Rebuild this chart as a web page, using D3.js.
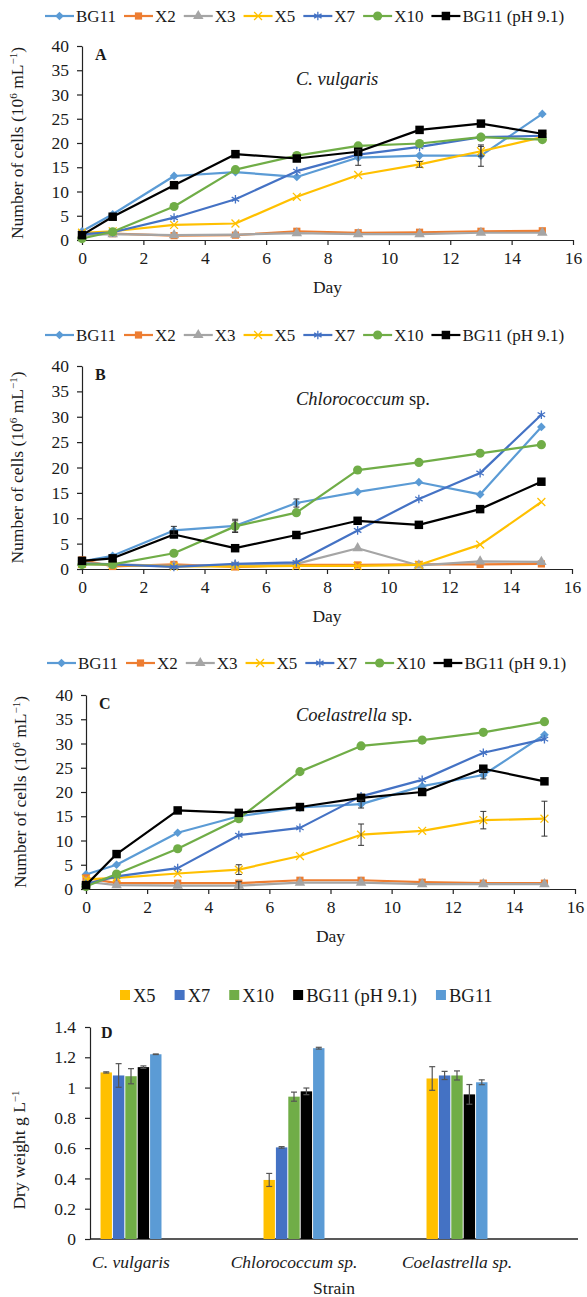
<!DOCTYPE html>
<html>
<head>
<meta charset="utf-8">
<script src="https://cdn.jsdelivr.net/npm/d3@7"></script>
<style>
  body { margin: 0; background: #fff; }
  svg { display: block; }
  text { font-family: "Liberation Serif", "Times New Roman", serif; fill: #1a1a1a; }
</style>
</head>
<body>
<svg id="chart" width="587" height="1297"></svg>
<script>
// ---- data ----
const days = [0, 1, 3, 5, 7, 9, 11, 13, 15];
const lineSeries = ["BG11", "X2", "X3", "X5", "X7", "X10", "BG11 (pH 9.1)"];
const lineColors = ["#5B9BD5", "#ED7D31", "#A5A5A5", "#FFC000", "#4472C4", "#70AD47", "#000000"];

// rows follow lineSeries, columns follow days (10^6 cells per mL)
const vulgarisCells = [
  [1.8, 5.3, 13.2, 14.0, 13.0, 17.0, 17.4, 17.4, 26.0],
  [1.2, 1.3, 0.9, 1.0, 1.8, 1.5, 1.6, 1.8, 1.9],
  [1.0, 1.2, 1.0, 1.1, 1.4, 1.2, 1.2, 1.5, 1.5],
  [1.5, 1.8, 3.1, 3.4, 8.9, 13.4, 15.6, 18.3, 21.2],
  [1.2, 1.6, 4.6, 8.4, 14.2, 17.6, 19.2, 21.2, 21.5],
  [0.3, 1.7, 6.9, 14.5, 17.4, 19.4, 19.9, 21.2, 20.7],
  [1.0, 4.8, 11.3, 17.7, 16.8, 18.2, 22.7, 24.0, 21.9]
];
// [series, day index, sd]
const vulgarisErr = [[0, 7, 2.2], [0, 5, 1.6], [3, 6, 0.6], [3, 7, 1.0]];

const chlorococcumCells = [
  [1.5, 2.6, 7.6, 8.5, 13.0, 15.2, 17.1, 14.7, 28.0],
  [1.8, 0.5, 0.9, 0.4, 0.8, 0.8, 0.9, 0.9, 1.0],
  [1.2, 0.9, 0.6, 0.7, 1.0, 4.1, 0.7, 1.5, 1.4],
  [1.0, 0.8, 0.5, 0.5, 0.6, 0.6, 0.8, 4.8, 13.2],
  [1.0, 0.9, 0.4, 1.0, 1.3, 7.6, 13.8, 18.9, 30.4],
  [0.9, 0.9, 3.1, 8.4, 11.1, 19.5, 21.0, 22.8, 24.5],
  [1.6, 2.1, 6.8, 4.1, 6.7, 9.5, 8.7, 11.8, 17.2]
];
const chlorococcumErr = [[0, 2, 0.8], [0, 3, 1.3], [5, 3, 1.1], [0, 4, 0.8]];

const coelastrellaCells = [
  [3.0, 5.0, 11.6, 15.0, 16.8, 17.5, 21.2, 23.5, 31.8],
  [2.3, 1.2, 1.2, 1.2, 1.8, 1.8, 1.4, 1.2, 1.2],
  [1.5, 0.8, 0.7, 0.7, 1.3, 1.3, 1.0, 1.0, 1.0],
  [2.0, 2.3, 3.2, 4.0, 6.8, 11.2, 12.0, 14.2, 14.5],
  [1.0, 2.6, 4.3, 11.1, 12.6, 19.1, 22.5, 28.1, 30.9],
  [0.5, 3.1, 8.3, 14.5, 24.2, 29.5, 30.7, 32.3, 34.5],
  [0.8, 7.2, 16.2, 15.7, 16.9, 18.8, 20.0, 24.8, 22.2]
];
const coelastrellaErr = [[3, 3, 1.0], [3, 5, 2.2], [3, 7, 1.8], [3, 8, 3.6], [0, 5, 0.8], [0, 7, 0.8], [2, 3, 0.8]];

const strains = ["C. vulgaris", "Chlorococcum sp.", "Coelastrella sp."];
const barSeries = ["X5", "X7", "X10", "BG11 (pH 9.1)", "BG11"];
const barColors = ["#FFC000", "#4472C4", "#70AD47", "#000000", "#5B9BD5"];
// rows follow strains, columns follow barSeries (g per L)
const dryWeight = [
  [1.10, 1.08, 1.075, 1.135, 1.22],
  [0.39, 0.605, 0.94, 0.975, 1.26],
  [1.06, 1.08, 1.08, 0.955, 1.035]
];
const dryWeightErr = [
  [0.004, 0.078, 0.05, 0.008, 0.002],
  [0.043, 0.005, 0.03, 0.022, 0.006],
  [0.078, 0.027, 0.03, 0.065, 0.016]
];

// ---- drawing ----
const svg = d3.select("#chart");
const FS = 17.5;

// diamond is drawn as a square turned 45 degrees
const symbolFor = [d3.symbolSquare, d3.symbolSquare, d3.symbolTriangle, d3.symbolX, d3.symbolAsterisk, d3.symbolCircle, d3.symbolSquare];
const symbolSize = [38, 52, 48, 42, 52, 66, 72];
const strokeSymbol = i => i === 3 || i === 4;

function drawMarker(g, i, x, y) {
  const p = g.append("path")
    .attr("transform", `translate(${x},${y})` + (i === 0 ? " rotate(45)" : ""))
    .attr("d", d3.symbol(symbolFor[i], symbolSize[i])());
  if (strokeSymbol(i)) p.attr("fill", "none").attr("stroke", lineColors[i]).attr("stroke-width", 1.3);
  else p.attr("fill", lineColors[i]);
}

function lineLegend(x0, y) {
  const g = svg.append("g");
  let x = x0;
  lineSeries.forEach((name, i) => {
    g.append("line").attr("x1", x).attr("x2", x + 29).attr("y1", y).attr("y2", y)
      .attr("stroke", lineColors[i]).attr("stroke-width", 2.2);
    drawMarker(g, i, x + 14.5, y);
    const t = g.append("text").attr("x", x + 31).attr("y", y + 6).attr("font-size", 17).text(name);
    x += 31 + t.node().getComputedTextLength() + 8;
  });
}

function yTitle(x, yc, parts) {
  const t = svg.append("text")
    .attr("transform", `translate(${x},${yc}) rotate(-90)`)
    .attr("text-anchor", "middle")
    .attr("font-size", FS);
  parts.forEach(([s, sup]) => {
    const ts = t.append("tspan").text(s);
    if (sup) ts.attr("font-size", 11).attr("baseline-shift", "super");
  });
}

function styleAxis(a) {
  a.selectAll("text").attr("font-size", FS).attr("font-family", "Liberation Serif").attr("fill", "#1a1a1a");
  a.selectAll("line,path").attr("stroke", "#222").attr("stroke-width", 1.2);
}

function linePanel(p) {
  lineLegend(p.legendX, p.legendY);

  const x = d3.scaleLinear().domain([0, 16]).range([p.left, p.right]);
  const y = d3.scaleLinear().domain([0, 40]).range([p.bottom, p.top]);

  styleAxis(svg.append("g")
    .attr("transform", `translate(0,${p.bottom})`)
    .call(d3.axisBottom(x).tickValues(d3.range(0, 17, 2)).tickSize(5).tickSizeOuter(0).tickPadding(7)));
  styleAxis(svg.append("g")
    .attr("transform", `translate(${p.left},0)`)
    .call(d3.axisLeft(y).tickValues(d3.range(0, 41, 5)).tickSize(5).tickSizeOuter(0).tickPadding(8)));

  const lineGen = d3.line().x((d, i) => x(days[i])).y(d => y(d));
  const plot = svg.append("g");

  p.cells.forEach((vals, i) => {
    plot.append("path").datum(vals)
      .attr("fill", "none").attr("stroke", lineColors[i]).attr("stroke-width", 2.2)
      .attr("stroke-linejoin", "round")
      .attr("d", lineGen);
    vals.forEach((v, j) => drawMarker(plot, i, x(days[j]), y(v)));
  });

  p.err.forEach(([s, j, e]) => {
    const cx = x(days[j]), v = p.cells[s][j];
    const eg = plot.append("g").attr("stroke", "#333").attr("stroke-width", 1);
    eg.append("line").attr("x1", cx).attr("x2", cx).attr("y1", y(v - e)).attr("y2", y(v + e));
    [v - e, v + e].forEach(w => eg.append("line").attr("x1", cx - 3).attr("x2", cx + 3).attr("y1", y(w)).attr("y2", y(w)));
  });

  svg.append("text").attr("x", p.left + 13).attr("y", p.top + 14)
    .attr("font-size", 16).attr("font-weight", "bold").text(p.letter);

  const title = svg.append("text").attr("x", 296).attr("y", p.top + p.titleDy).attr("font-size", 18.5);
  p.title.forEach(([s, it]) => title.append("tspan").attr("font-style", it ? "italic" : "normal").text(s));

  svg.append("text").attr("x", (p.left + p.right) / 2).attr("y", p.bottom + 53)
    .attr("text-anchor", "middle").attr("font-size", FS).text("Day");

  yTitle(p.titleX, (p.top + p.bottom) / 2,
    [["Number of cells (10"], ["6", true], [" mL"], ["\u22121", true], [")"]]);
}

linePanel({ cells: vulgarisCells, err: vulgarisErr, left: 82, right: 573, top: 46, bottom: 240,
  legendX: 45, legendY: 16, letter: "A", title: [["C. vulgaris", true]], titleDy: 39, titleX: 23 });
linePanel({ cells: chlorococcumCells, err: chlorococcumErr, left: 82, right: 572, top: 366, bottom: 569,
  legendX: 45, legendY: 335, letter: "B", title: [["Chlorococcum", true], [" sp.", false]], titleDy: 39, titleX: 23 });
linePanel({ cells: coelastrellaCells, err: coelastrellaErr, left: 86, right: 575, top: 695, bottom: 889,
  legendX: 47, legendY: 663, letter: "C", title: [["Coelastrella", true], [" sp.", false]], titleDy: 26, titleX: 26 });

// ---- panel D: dry weight bars ----
(function () {
  const left = 90, right = 578, top = 1027, bottom = 1239;

  const lg = svg.append("g");
  let lx = 120;
  barSeries.forEach((name, i) => {
    lg.append("rect").attr("x", lx).attr("y", 990).attr("width", 10).attr("height", 10).attr("fill", barColors[i]);
    const t = lg.append("text").attr("x", lx + 13).attr("y", 1001.5).attr("font-size", 18.5).text(name);
    lx += 13 + t.node().getComputedTextLength() + 19;
  });

  const x0 = d3.scaleBand().domain(strains).range([50, 538]).paddingInner(0.626).paddingOuter(0.31);
  const x1 = d3.scaleBand().domain(barSeries).range([0, x0.bandwidth()]).paddingInner(0.08);
  const y = d3.scaleLinear().domain([0, 1.4]).range([bottom, top]);

  styleAxis(svg.append("g").attr("transform", `translate(${left},0)`)
    .call(d3.axisLeft(y).tickValues(d3.range(0, 1.41, 0.2)).tickFormat(d => String(Math.round(d * 10) / 10))
      .tickSize(5).tickSizeOuter(0).tickPadding(9)));

  svg.append("line").attr("x1", left).attr("x2", right).attr("y1", bottom).attr("y2", bottom)
    .attr("stroke", "#222").attr("stroke-width", 1.4);

  const groups = svg.append("g").selectAll("g").data(strains).join("g")
    .attr("transform", d => `translate(${x0(d)},0)`);
  groups.each(function (strain, si) {
    const g = d3.select(this);
    barSeries.forEach((s, i) => {
      const v = dryWeight[si][i], e = dryWeightErr[si][i];
      const bx = x1(s), bw = x1.bandwidth();
      g.append("rect").attr("x", bx).attr("y", y(v)).attr("width", bw).attr("height", y(0) - y(v))
        .attr("fill", barColors[i]);
      const cx = bx + bw / 2;
      const eg = g.append("g").attr("stroke", "#555").attr("stroke-width", 1.2);
      eg.append("line").attr("x1", cx).attr("x2", cx).attr("y1", y(v - e)).attr("y2", y(v + e));
      [v - e, v + e].forEach(w => eg.append("line").attr("x1", cx - 3).attr("x2", cx + 3).attr("y1", y(w)).attr("y2", y(w)));
    });
  });

  strains.forEach(s => {
    svg.append("text").attr("x", x0(s) + x0.bandwidth() / 2).attr("y", bottom + 29)
      .attr("text-anchor", "middle").attr("font-size", FS).attr("font-style", "italic").text(s);
  });

  svg.append("text").attr("x", 101).attr("y", top + 11).attr("font-size", 16).attr("font-weight", "bold").text("D");
  svg.append("text").attr("x", (left + right) / 2).attr("y", bottom + 55)
    .attr("text-anchor", "middle").attr("font-size", FS).text("Strain");
  yTitle(25, 1150, [["Dry weight g L"], ["\u22121", true]]);
})();
</script>
</body>
</html>
